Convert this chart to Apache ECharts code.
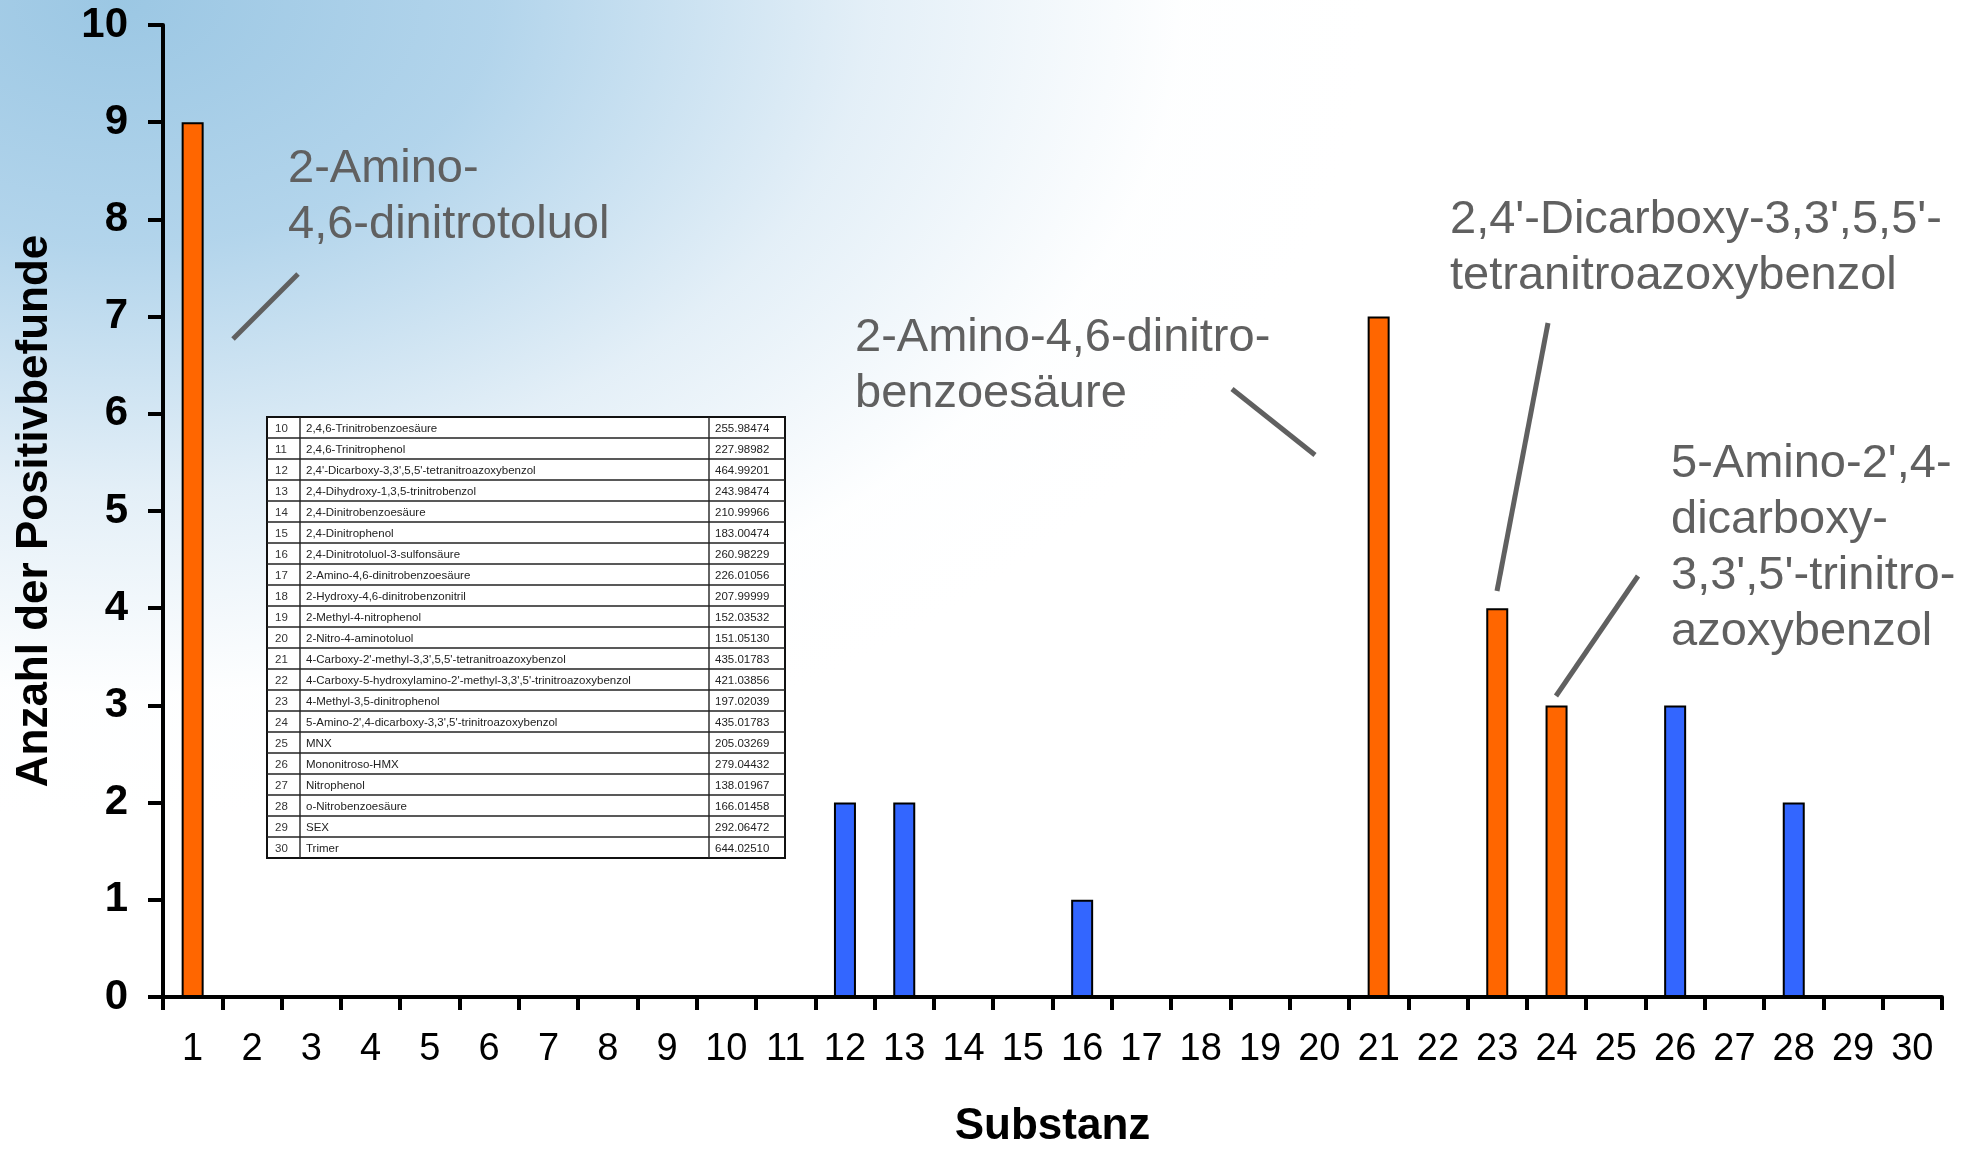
<!DOCTYPE html>
<html>
<head>
<meta charset="utf-8">
<script src="https://cdn.jsdelivr.net/npm/echarts@6/dist/echarts.min.js"></script>
<style>
html,body{margin:0;padding:0;width:1970px;height:1154px;overflow:hidden;}
body{
  background:
    radial-gradient(ellipse 1250px 820px at 120px 0px, rgba(150,196,226,0.95) 0%, rgba(165,205,232,0.85) 30%, rgba(205,226,241,0.55) 60%, rgba(245,250,253,0.15) 85%, rgba(255,255,255,0) 100%),
    #ffffff;
}
#chart{width:1970px;height:1154px;}
</style>
</head>
<body>
<div id="chart"></div>
<script>
const categories = ['1','2','3','4','5','6','7','8','9','10','11','12','13','14','15','16','17','18','19','20','21','22','23','24','25','26','27','28','29','30'];
const orangeValues = [9,null,null,null,null,null,null,null,null,null,null,null,null,null,null,null,null,null,null,null,7,null,4,3,null,null,null,null,null,null];
const blueValues = [null,null,null,null,null,null,null,null,null,null,null,2,2,null,null,1,null,null,null,null,null,null,null,null,null,3,null,2,null,null];
const yTicks = [0,1,2,3,4,5,6,7,8,9,10];

const annotationTexts = [
  '2-Amino-\n4,6-dinitrotoluol',
  '2-Amino-4,6-dinitro-\nbenzoesäure',
  "2,4'-Dicarboxy-3,3',5,5'-\ntetranitroazoxybenzol",
  "5-Amino-2',4-\ndicarboxy-\n3,3',5'-trinitro-\nazoxybenzol"
];

const tableIds = ['10','11','12','13','14','15','16','17','18','19','20','21','22','23','24','25','26','27','28','29','30'];
const tableNames = [
  '2,4,6-Trinitrobenzoesäure',
  '2,4,6-Trinitrophenol',
  "2,4'-Dicarboxy-3,3',5,5'-tetranitroazoxybenzol",
  '2,4-Dihydroxy-1,3,5-trinitrobenzol',
  '2,4-Dinitrobenzoesäure',
  '2,4-Dinitrophenol',
  '2,4-Dinitrotoluol-3-sulfonsäure',
  '2-Amino-4,6-dinitrobenzoesäure',
  '2-Hydroxy-4,6-dinitrobenzonitril',
  '2-Methyl-4-nitrophenol',
  '2-Nitro-4-aminotoluol',
  "4-Carboxy-2'-methyl-3,3',5,5'-tetranitroazoxybenzol",
  "4-Carboxy-5-hydroxylamino-2'-methyl-3,3',5'-trinitroazoxybenzol",
  '4-Methyl-3,5-dinitrophenol',
  "5-Amino-2',4-dicarboxy-3,3',5'-trinitroazoxybenzol",
  'MNX',
  'Mononitroso-HMX',
  'Nitrophenol',
  'o-Nitrobenzoesäure',
  'SEX',
  'Trimer'
];
const tableMasses = ['255.98474','227.98982','464.99201','243.98474','210.99966','183.00474','260.98229','226.01056','207.99999','152.03532','151.05130','435.01783','421.03856','197.02039','435.01783','205.03269','279.04432','138.01967','166.01458','292.06472','644.02510'];

const FONT = 'Arial, "Liberation Sans", Helvetica, sans-serif';
const GRAY = '#606060';

// table layout
const tX = [267, 300, 709, 785];
const tTop = 417, rowH = 21;
const tableChildren = [];
const tBottom = tTop + rowH * tableIds.length;
tableChildren.push({type:'rect', shape:{x:tX[0], y:tTop, width:tX[3]-tX[0], height:tBottom-tTop}, style:{fill:'#ffffff', stroke:'#111', lineWidth:2}});
for (let i = 1; i < tableIds.length; i++) {
  const y = tTop + i * rowH;
  tableChildren.push({type:'line', shape:{x1:tX[0], y1:y, x2:tX[3], y2:y}, style:{stroke:'#222', lineWidth:1.4}});
}
[tX[1], tX[2]].forEach(x => tableChildren.push({type:'line', shape:{x1:x, y1:tTop, x2:x, y2:tBottom}, style:{stroke:'#222', lineWidth:1.4}}));
for (let i = 0; i < tableIds.length; i++) {
  const cy = tTop + i * rowH + rowH / 2 + 1;
  tableChildren.push({type:'text', x:tX[0]+8, y:cy, style:{text:tableIds[i], font:'11.5px ' + FONT, fill:'#333', verticalAlign:'middle'}});
  tableChildren.push({type:'text', x:tX[1]+6, y:cy, style:{text:tableNames[i], font:'11.5px ' + FONT, fill:'#222', verticalAlign:'middle'}});
  tableChildren.push({type:'text', x:tX[2]+6, y:cy, style:{text:tableMasses[i], font:'11.5px ' + FONT, fill:'#222', verticalAlign:'middle'}});
}

const annPos = [[288,141],[855,310],[1450,192],[1671,436]];
const leaderLines = [[233,339,298,274],[1232,389,1315,455],[1548,323,1497,591],[1638,576,1556,696]];
const graphics = [];
annotationTexts.forEach((t, i) => {
  graphics.push({type:'text', x:annPos[i][0], y:annPos[i][1], z:10, style:{text:t, fontSize:47, fontFamily:FONT, fill:GRAY, lineHeight:56, verticalAlign:'top'}});
});
leaderLines.forEach(l => graphics.push({type:'line', z:10, shape:{x1:l[0], y1:l[1], x2:l[2], y2:l[3]}, style:{stroke:GRAY, lineWidth:5}}));
graphics.push({type:'group', z:5, children:tableChildren});

const chart = echarts.init(document.getElementById('chart'), null, {renderer:'canvas'});
chart.setOption({
  backgroundColor:'transparent',
  animation:false,
  grid:{left:163, right:28, top:25, bottom:144, containLabel:false},
  xAxis:{
    type:'category',
    data:categories,
    boundaryGap:true,
    name:'Substanz',
    nameLocation:'middle',
    nameGap:108,
    nameTextStyle:{fontSize:44, fontWeight:'bold', fontFamily:FONT, color:'#000'},
    axisLine:{lineStyle:{color:'#000', width:4}},
    axisTick:{show:true, length:13, lineStyle:{color:'#000', width:4}, alignWithLabel:false},
    axisLabel:{fontSize:38, fontFamily:FONT, color:'#000', margin:34, interval:0}
  },
  yAxis:{
    type:'value',
    min:0, max:10, interval:1,
    name:'Anzahl der Positivbefunde',
    nameLocation:'middle',
    nameRotate:90,
    nameGap:106,
    nameTextStyle:{fontSize:44, fontWeight:'bold', fontFamily:FONT, color:'#000'},
    axisLine:{show:true, lineStyle:{color:'#000', width:4}},
    axisTick:{show:true, length:15, lineStyle:{color:'#000', width:4}},
    axisLabel:{fontSize:42, fontWeight:'bold', fontFamily:FONT, color:'#000', margin:35,
      formatter: v => yTicks.indexOf(v) >= 0 ? String(v) : ''},
    splitLine:{show:false}
  },
  series:[
    {type:'bar', name:'orange', data:orangeValues, barWidth:22, barGap:'-100%',
      itemStyle:{color:'#FF6600', borderColor:'#000', borderWidth:2}},
    {type:'bar', name:'blue', data:blueValues, barWidth:22, barGap:'-100%',
      itemStyle:{color:'#3366FF', borderColor:'#000', borderWidth:2}}
  ],
  graphic:graphics
});
</script>
</body>
</html>
